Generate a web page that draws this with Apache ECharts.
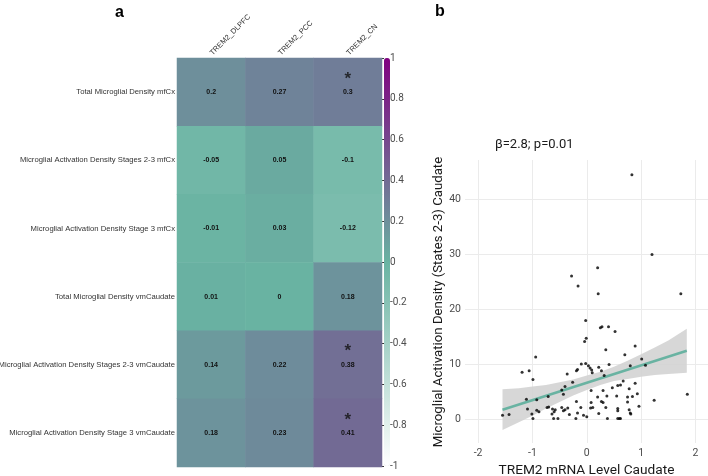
<!DOCTYPE html>
<html>
<head>
<meta charset="utf-8">
<script src="https://cdn.jsdelivr.net/npm/echarts@6/dist/echarts.min.js"></script>
<style>html,body{margin:0;padding:0;background:#fff;}#c{width:708px;height:476px;}</style>
</head>
<body>
<div id="c"></div>
<script>
// ---- Panel a: correlation heatmap ----
var heatCols = ['TREM2_DLPFC', 'TREM2_PCC', 'TREM2_CN'];
var heatRows = [
  'Total Microglial Density mfCx',
  'Microglial Activation Density Stages 2-3 mfCx',
  'Microglial Activation Density Stage 3 mfCx',
  'Total Microglial Density vmCaudate',
  'Microglial Activation Density Stages 2-3 vmCaudate',
  'Microglial Activation Density Stage 3 vmCaudate'
];
var heatValues = [
  [0.2, 0.27, 0.3],
  [-0.05, 0.05, -0.1],
  [-0.01, 0.03, -0.12],
  [0.01, 0, 0.18],
  [0.14, 0.22, 0.38],
  [0.18, 0.23, 0.41]
];
var heatSig = [
  [0, 0, 1],
  [0, 0, 0],
  [0, 0, 0],
  [0, 0, 0],
  [0, 0, 1],
  [0, 0, 1]
];
var colorbarTicks = [-1, -0.8, -0.6, -0.4, -0.2, 0, 0.2, 0.4, 0.6, 0.8, 1];

// ---- Panel b: scatter ----
var scatterX = [1.20,1.73,0.20,-0.28,-0.16,0.21,-0.02,0.25,0.28,0.40,0.52,-0.01,-0.04,0.35,0.89,-0.94,0.70,1.01,
  -0.10,-0.02,0.03,0.06,0.09,0.10,0.41,0.80,1.08,-0.17,-0.19,0.22,0.27,
  -1.19,-1.06,-0.99,-0.36,0.32,0.67,0.89,-0.26,-0.40,-0.46,0.62,0.57,0.47,0.78,0.08,0.30,0.93,1.85,-0.43,0.55,0.37,0.20,0.84,-0.71,-0.92,-1.11,-0.19,0.27,0.30,1.24,0.08,0.75,0.96,-0.70,-0.73,-0.35,-0.46,-0.11,0.11,0.35,-0.63,0.57,-1.09,-0.92,-0.88,-0.43,-0.40,-0.58,0.57,0.78,-0.17,-0.60,0.80,0.81,-1.55,-1.43,-1.01,-0.64,-0.32,-0.06,0.00,0.22,-0.99,-0.61,-0.53,-0.20,0.38,0.57,0.60,0.62,0.83,0.07,0.75];
var scatterY = [29.9,22.8,27.5,26.0,24.2,22.8,17.9,16.6,16.8,16.8,15.9,14.7,14.1,12.6,13.3,11.3,11.7,10.9,
  10.0,10.1,9.7,9.3,8.9,8.4,9.9,9.7,9.8,9.0,8.8,9.4,8.8,
  8.5,8.8,7.2,8.2,7.9,6.9,6.5,6.7,5.9,5.3,6.2,6.1,5.7,5.5,5.2,5.2,4.6,4.5,4.5,4.2,4.2,4.0,4.1,4.1,3.5,3.6,3.2,3.2,3.0,3.4,3.0,3.1,2.3,2.2,2.1,2.0,2.1,2.1,2.1,2.1,1.8,1.9,1.8,1.6,1.3,1.5,1.7,1.7,1.5,1.7,1.1,1.3,1.1,0.9,0.7,0.8,0.9,0.9,0.8,0.7,0.4,1.0,0.1,0.1,0.1,0.1,0.1,0.1,0.1,0.1,44.4,2.0,4.0];
var fitX = [-1.55, 1.84];
var fitY = [1.7, 12.4];
var bandX = [-1.55, -1.25, -1.0, -0.75, -0.5, -0.25, 0, 0.25, 0.5, 0.75, 1.0, 1.25, 1.5, 1.84];
var bandLow = [-2.0, -0.6, 0.6, 1.9, 3.1, 4.3, 5.3, 6.2, 6.9, 7.3, 7.7, 8.0, 8.2, 8.4];
var bandHigh = [5.4, 5.6, 5.9, 6.2, 6.7, 7.2, 7.9, 8.6, 9.5, 10.6, 11.8, 13.0, 14.3, 16.4];
var xTickLabels = ['-2', '-1', '0', '1', '2'];
var yTickLabels = ['0', '10', '20', '30', '40'];
var yTitle = 'Microglial Activation Density (States 2-3) Caudate';

var heatData = [];
heatValues.forEach(function (row, r) {
  row.forEach(function (v, c) { heatData.push([c, r, v]); });
});
var starData = [];
heatSig.forEach(function (row, r) {
  row.forEach(function (s, c) { if (s) starData.push([c, r]); });
});
var scatterData = scatterX.map(function (x, i) { return [x, scatterY[i]]; });
var fitData = fitX.map(function (x, i) { return [x, fitY[i]]; });
var bandData = bandX.map(function (x, i) { return [x, bandLow[i], bandHigh[i]]; });

var gridLineColor = '#ebebeb';
var chart = echarts.init(document.getElementById('c'));
chart.setOption({
  animation: false,
  backgroundColor: '#ffffff',
  title: [
    { text: 'a', left: 110, top: 0, textStyle: { fontFamily: 'Liberation Sans', fontSize: 16, fontWeight: 'bold', color: '#000' } },
    { text: 'b', left: 430, top: -1, textStyle: { fontFamily: 'Liberation Sans', fontSize: 16, fontWeight: 'bold', color: '#000' } },
    { text: 'β=2.8; p=0.01', left: 490, top: 133, textStyle: { fontFamily: 'Roboto', fontSize: 13, fontWeight: 'normal', color: '#1a1a1a' } }
  ],
  graphic: [
    { type: 'text', x: 439, y: 302, rotation: Math.PI / 2, silent: true,
      style: { text: yTitle, fontFamily: 'Roboto', fontSize: 13.2, fill: '#1a1a1a', align: 'center', verticalAlign: 'middle' } }
  ],
  grid: [
    { left: 177, top: 58, width: 205, height: 409, outerBoundsMode: 'none', containLabel: false },
    { left: 465, top: 160, width: 243, height: 283, outerBoundsMode: 'none', containLabel: false },
    { left: 384, top: 58, width: 6, height: 408, outerBoundsMode: 'none', containLabel: false }
  ],
  xAxis: [
    { gridIndex: 0, type: 'category', data: heatCols, position: 'top',
      axisLine: { show: false }, axisTick: { show: false }, splitLine: { show: false },
      axisLabel: { rotate: -45, margin: 4, fontFamily: 'Liberation Sans', fontSize: 7.5, color: '#333' } },
    { gridIndex: 1, type: 'value', min: -2.24, max: 2.23,
      axisLine: { show: false }, axisTick: { show: false },
      splitLine: { show: true, lineStyle: { color: ['transparent', gridLineColor, gridLineColor, gridLineColor, gridLineColor, gridLineColor, 'transparent'], width: 1 } },
      axisLabel: { showMinLabel: false, showMaxLabel: false, margin: 5, fontFamily: 'Roboto', fontSize: 10.5, color: '#4d4d4d',
        formatter: function (v) { var s = String(Math.round(v)); return xTickLabels.indexOf(s) >= 0 && Math.abs(v - Math.round(v)) < 1e-6 ? s : ''; } },
      name: 'TREM2 mRNA Level Caudate', nameLocation: 'middle', nameGap: 18,
      nameTextStyle: { fontFamily: 'Roboto', fontSize: 13.7, color: '#1a1a1a' } },
    { gridIndex: 2, type: 'value', show: false, min: 0, max: 1 }
  ],
  yAxis: [
    { gridIndex: 0, type: 'category', data: heatRows, inverse: true,
      axisLine: { show: false }, axisTick: { show: false }, splitLine: { show: false },
      axisLabel: { margin: 2, fontFamily: 'Liberation Sans', fontSize: 7.7, color: '#333' } },
    { gridIndex: 1, type: 'value', min: -4.36, max: 47.1,
      axisLine: { show: false }, axisTick: { show: false },
      splitLine: { show: true, lineStyle: { color: ['transparent', gridLineColor, gridLineColor, gridLineColor, gridLineColor, gridLineColor, 'transparent'], width: 1 } },
      axisLabel: { showMinLabel: false, showMaxLabel: false, margin: 4, fontFamily: 'Roboto', fontSize: 10.5, color: '#4d4d4d',
        formatter: function (v) { var s = String(Math.round(v)); return yTickLabels.indexOf(s) >= 0 && Math.abs(v - Math.round(v)) < 1e-6 ? s : ''; } } },
    { gridIndex: 2, type: 'value', min: colorbarTicks[0], max: colorbarTicks[colorbarTicks.length - 1], interval: 0.2, position: 'right',
      axisLine: { show: false }, splitLine: { show: false },
      axisTick: { show: true, inside: true, length: 2, lineStyle: { color: '#333', width: 1 } },
      axisLabel: { margin: 0, fontFamily: 'Roboto', fontSize: 10, color: '#4d4d4d',
        formatter: function (v) { return String(+v.toFixed(1)); } } }
  ],
  visualMap: {
    type: 'continuous', min: -1, max: 1, dimension: 2, seriesIndex: 0,
    calculable: false, orient: 'vertical', left: 384, top: 58,
    itemWidth: 6, itemHeight: 408, padding: 0, text: null, hoverLink: false,
    inRange: { color: ['#ffffff', '#69b3a2', '#800080'] }
  },
  series: [
    { type: 'heatmap', xAxisIndex: 0, yAxisIndex: 0, data: heatData,
      itemStyle: { borderWidth: 0 },
      label: { show: true, fontFamily: 'Liberation Sans', fontSize: 7, fontWeight: 'bold', color: '#111',
        formatter: function (p) { return String(p.value[2]); } } },
    { type: 'scatter', xAxisIndex: 0, yAxisIndex: 0, data: starData, symbolSize: 0, silent: true,
      label: { show: true, position: 'inside', offset: [0, -13], formatter: '*', fontFamily: 'Liberation Sans', fontSize: 17, fontWeight: 'bold', color: '#111' } },
    { type: 'custom', xAxisIndex: 1, yAxisIndex: 1, data: bandData, silent: true, z: 1,
      renderItem: function (params, api) {
        if (params.dataIndex !== 0) return null;
        var top = [], bot = [];
        for (var i = 0; i < bandX.length; i++) {
          top.push(api.coord([bandX[i], bandHigh[i]]));
          bot.unshift(api.coord([bandX[i], bandLow[i]]));
        }
        return { type: 'polygon', shape: { points: top.concat(bot) }, style: { fill: '#d3d3d3', opacity: 0.9 } };
      } },
    { type: 'line', xAxisIndex: 1, yAxisIndex: 1, data: fitData, symbol: 'none', z: 2,
      lineStyle: { color: '#69b3a2', width: 2.6 } },
    { type: 'scatter', xAxisIndex: 1, yAxisIndex: 1, data: scatterData, symbolSize: 3, z: 3,
      itemStyle: { color: '#000' } }
  ]
});
</script>
</body>
</html>
